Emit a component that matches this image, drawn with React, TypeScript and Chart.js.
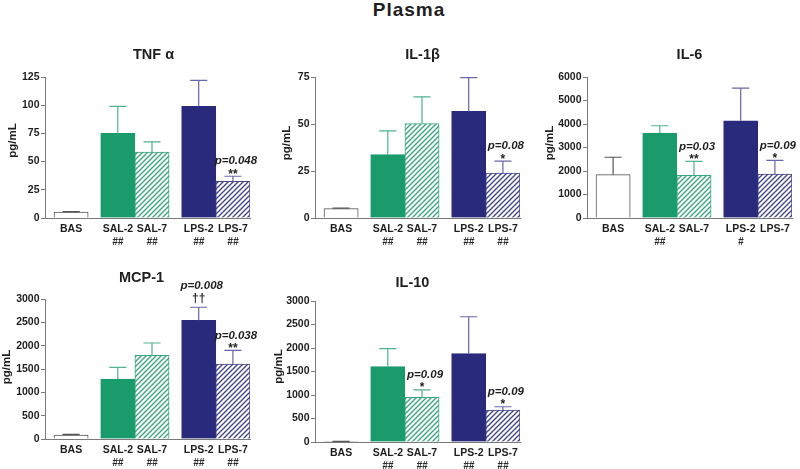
import React, { useEffect, useRef } from "react";
import { Chart, registerables } from "chart.js";

Chart.register(...registerables);

// ---------- shared categories ----------
const groupLabels = ["BAS", "SAL-2", "SAL-7", "LPS-2", "LPS-7"];
const groupCluster = [0, 1, 1, 2, 2];

// ---------- TNFα ----------
const tnfMean = [5.2, 75, 58.5, 99, 32.5];
const tnfSem = [0.4, 24, 9, 23, 4.5];
const tnfTicks = [0, 25, 50, 75, 100, 125];
const tnfHash = ["", "##", "##", "##", "##"];
const tnfPText = ["", "", "", "", "p=0.048"];
const tnfMark = ["", "", "", "", "**"];

// ---------- IL-1β ----------
const il1bMean = [5, 33.7, 50.2, 56.7, 23.9];
const il1bSem = [0.3, 12.6, 14.2, 18, 6.4];
const il1bTicks = [0, 25, 50, 75];
const il1bHash = ["", "##", "##", "##", "##"];
const il1bPText = ["", "", "", "", "p=0.08"];
const il1bMark = ["", "", "", "", "*"];

// ---------- IL-6 ----------
const il6Mean = [1845, 3615, 1815, 4140, 1870];
const il6Sem = [740, 310, 595, 1390, 580];
const il6Ticks = [0, 1000, 2000, 3000, 4000, 5000, 6000];
const il6Hash = ["", "##", "", "#", ""];
const il6PText = ["", "", "p=0.03", "", "p=0.09"];
const il6Mark = ["", "", "**", "", "*"];

// ---------- MCP-1 ----------
const mcp1Mean = [85, 1285, 1795, 2545, 1605];
const mcp1Sem = [15, 250, 262, 278, 295];
const mcp1Ticks = [0, 500, 1000, 1500, 2000, 2500, 3000];
const mcp1Hash = ["", "##", "##", "##", "##"];
const mcp1PText = ["", "", "", "p=0.008", "p=0.038"];
const mcp1Mark = ["", "", "", "††", "**"];

// ---------- IL-10 ----------
const il10Mean = [8, 1605, 950, 1880, 680];
const il10Sem = [4, 380, 157, 785, 70];
const il10Ticks = [0, 500, 1000, 1500, 2000, 2500, 3000];
const il10Hash = ["", "##", "##", "##", "##"];
const il10PText = ["", "", "p=0.09", "", "p=0.09"];
const il10Mark = ["", "", "*", "", "*"];

// ---------- styling ----------
const FONT = '"Liberation Sans", Arial, Helvetica, sans-serif';
const GREEN = "#1a9b6c";
const GREEN_L = "#4fb38d";
const GREEN_H = "#3aa67e";
const NAVY = "#2a2a7c";
const NAVY_L = "#6767a8";
const NAVY_H = "#45458f";
const AXIS = "#7a7a7a";
const TEXT = "#1e1e1e";
const GAP = 0.366;

type PanelSpec = {
  title: string;
  mean: number[];
  sem: number[];
  ticks: number[];
  hash: string[];
  pText: string[];
  mark: string[];
  left: number;
  top: number;
  width: number;
  areaH: number;
  titleDx: number;
  titleDy: number;
  ylabD: number;
  ylabDy: number;
};

const panels: PanelSpec[] = [
  { title: "TNF α", mean: tnfMean, sem: tnfSem, ticks: tnfTicks, hash: tnfHash, pText: tnfPText, mark: tnfMark,
    left: 0, top: 40, width: 262, areaH: 141, titleDx: 6, titleDy: 22, ylabD: 32, ylabDy: -7 },
  { title: "IL-1β", mean: il1bMean, sem: il1bSem, ticks: il1bTicks, hash: il1bHash, pText: il1bPText, mark: il1bMark,
    left: 270, top: 40, width: 262, areaH: 141, titleDx: 5, titleDy: 22, ylabD: 28.5, ylabDy: -4.5 },
  { title: "IL-6", mean: il6Mean, sem: il6Sem, ticks: il6Ticks, hash: il6Hash, pText: il6PText, mark: il6Mark,
    left: 542, top: 40, width: 258, areaH: 141, titleDx: 0, titleDy: 22, ylabD: 37, ylabDy: -4.5 },
  { title: "MCP-1", mean: mcp1Mean, sem: mcp1Sem, ticks: mcp1Ticks, hash: mcp1Hash, pText: mcp1PText, mark: mcp1Mark,
    left: 0, top: 262, width: 262, areaH: 140, titleDx: -6, titleDy: 21.5, ylabD: 38, ylabDy: -2 },
  { title: "IL-10", mean: il10Mean, sem: il10Sem, ticks: il10Ticks, hash: il10Hash, pText: il10PText, mark: il10Mark,
    left: 270, top: 264, width: 262, areaH: 141, titleDx: -5, titleDy: 18.5, ylabD: 36, ylabDy: -5 },
];

function makeHatch(color: string): CanvasPattern | string {
  const c = document.createElement("canvas");
  const s = 5;
  c.width = s;
  c.height = s;
  const g = c.getContext("2d");
  if (!g) return color;
  g.fillStyle = "#ffffff";
  g.fillRect(0, 0, s, s);
  g.strokeStyle = color;
  g.lineWidth = 1.4;
  g.beginPath();
  g.moveTo(-1, s + 1);
  g.lineTo(s + 1, -1);
  g.moveTo(-s / 2 - 1, s / 2 + 1);
  g.lineTo(s / 2 + 1, -s / 2 - 1);
  g.moveTo(s / 2 - 1, s * 1.5 + 1);
  g.lineTo(s * 1.5 + 1, s / 2 - 1);
  g.stroke();
  return g.createPattern(c, "repeat") || color;
}

function Panel({ spec }: { spec: PanelSpec }) {
  const ref = useRef<HTMLCanvasElement>(null);
  const height = 37 + spec.areaH + 40;

  useEffect(() => {
    const canvas = ref.current;
    if (!canvas) return;
    const positions = groupLabels.map((_, i) => i + groupCluster[i] * GAP);
    const xMin = -0.5 - 9 / 34.2;
    const xMax = positions[positions.length - 1] + 0.5;
    const fills = ["#ffffff", GREEN, makeHatch(GREEN_H), NAVY, makeHatch(NAVY_H)];
    const borders = ["#555555", GREEN, GREEN_H, NAVY, NAVY_H];
    const errColors = ["#555555", GREEN_L, GREEN_L, NAVY_L, NAVY_L];
    const yT = spec.ticks;

    const annot = {
      id: "annot" + spec.title,
      afterDatasetsDraw(chart: any) {
        const ctx: CanvasRenderingContext2D = chart.ctx;
        const area = chart.chartArea;
        const ys = chart.scales.y;
        const meta = chart.getDatasetMeta(0);
        ctx.save();
        meta.data.forEach((el: any, i: number) => {
          const x = el.x;
          const top = ys.getPixelForValue(spec.mean[i] + spec.sem[i]);
          const half = el.width / 4;
          ctx.strokeStyle = errColors[i];
          ctx.lineWidth = 1.2;
          ctx.beginPath();
          ctx.moveTo(x, el.y);
          ctx.lineTo(x, top);
          ctx.moveTo(x - half, top);
          ctx.lineTo(x + half, top);
          ctx.stroke();

          const mk = spec.mark[i];
          const isDagger = mk.indexOf("†") >= 0;
          if (mk) {
            ctx.fillStyle = TEXT;
            ctx.font = `bold 12px ${FONT}`;
            ctx.textAlign = "center";
            ctx.textBaseline = "alphabetic";
            ctx.fillText(mk, x, isDagger ? top - 5 : top + 1.5);
          }
          if (spec.pText[i]) {
            ctx.fillStyle = TEXT;
            ctx.font = `italic bold 11.5px ${FONT}`;
            ctx.textAlign = "center";
            ctx.textBaseline = "middle";
            ctx.fillText(spec.pText[i], x + 3, isDagger ? top - 21 : top - 15);
          }
          if (spec.hash[i]) {
            ctx.fillStyle = "#2a2a2a";
            ctx.font = `italic bold 10px ${FONT}`;
            ctx.textAlign = "center";
            ctx.textBaseline = "middle";
            ctx.fillText(spec.hash[i], x, area.bottom + 24.5);
          }
        });
        // panel title
        ctx.fillStyle = TEXT;
        ctx.font = `bold 14.5px ${FONT}`;
        ctx.textAlign = "center";
        ctx.textBaseline = "middle";
        ctx.fillText(spec.title, (area.left + area.right) / 2 + spec.titleDx, area.top - spec.titleDy);
        // y axis label
        ctx.translate(area.left - spec.ylabD, (area.top + area.bottom) / 2 + spec.ylabDy);
        ctx.rotate(-Math.PI / 2);
        ctx.font = `bold 11.5px ${FONT}`;
        ctx.fillText("pg/mL", 0, 0);
        ctx.restore();
      },
    };

    const chart = new Chart(canvas, {
      type: "bar",
      data: {
        datasets: [
          {
            data: positions.map((x, i) => ({ x, y: spec.mean[i] })),
            backgroundColor: fills as any,
            borderColor: borders,
            borderWidth: 1,
            barPercentage: 1,
            categoryPercentage: 1,
          },
        ],
      },
      options: {
        animation: false,
        responsive: false,
        devicePixelRatio: 1,
        layout: { padding: { top: 37, left: 0, bottom: 0, right: spec.width - 250 } },
        plugins: {
          legend: { display: false },
          tooltip: { enabled: false },
          title: { display: false },
        },
        scales: {
          x: {
            type: "linear",
            min: xMin,
            max: xMax,
            offset: false,
            grid: { display: false, drawTicks: false },
            border: { display: true, color: AXIS, width: 1 },
            ticks: {
              autoSkip: false,
              maxRotation: 0,
              minRotation: 0,
              padding: 5,
              color: TEXT,
              font: { family: FONT, size: 10.5, weight: 700 },
              callback: (_v: any, i: number) => groupLabels[i],
            },
            afterBuildTicks: (s: any) => {
              s.ticks = positions.map((v) => ({ value: v }));
            },
            afterFit: (s: any) => {
              s.height = 40;
            },
          } as any,
          y: {
            type: "linear",
            min: yT[0],
            max: yT[yT.length - 1],
            grid: { drawOnChartArea: false, drawTicks: true, tickLength: 4, color: AXIS, lineWidth: 1 },
            border: { display: true, color: AXIS, width: 1 },
            ticks: {
              padding: 1.5,
              color: TEXT,
              font: { family: FONT, size: 10.5, weight: 700 },
              callback: (v: any) => String(v),
            },
            afterBuildTicks: (s: any) => {
              s.ticks = yT.map((v) => ({ value: v }));
            },
            afterFit: (s: any) => {
              s.width = 45;
            },
          } as any,
        },
      },
      plugins: [annot],
    });
    return () => chart.destroy();
  }, [spec]);

  return (
    <canvas
      ref={ref}
      width={spec.width}
      height={height}
      style={{ position: "absolute", left: spec.left, top: spec.top, width: spec.width, height, display: "block" }}
    />
  );
}

export default function App() {
  return (
    <div style={{ position: "fixed", left: 0, top: 0, width: 800, height: 469, background: "#ffffff", overflow: "hidden" }}>
      <div
        style={{
          position: "absolute",
          left: 9,
          top: 0,
          width: 800,
          textAlign: "center",
          fontFamily: FONT,
          fontWeight: "bold",
          fontSize: 19,
          lineHeight: "19px",
          letterSpacing: 1,
          color: TEXT,
        }}
      >
        Plasma
      </div>
      {panels.map((p) => (
        <Panel key={p.title} spec={p} />
      ))}
    </div>
  );
}
